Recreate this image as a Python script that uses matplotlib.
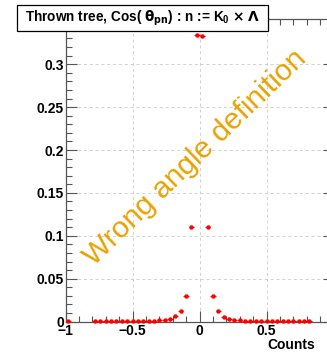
import numpy as np
import matplotlib
matplotlib.use("Agg")
import matplotlib.pyplot as plt
from matplotlib.patches import Rectangle
from matplotlib.ticker import MultipleLocator

plt.rcParams['font.family'] = ['Liberation Sans', 'DejaVu Sans']
plt.rcParams['font.weight'] = 'bold'
plt.rcParams['mathtext.fontset'] = 'custom'
plt.rcParams['mathtext.rm'] = 'DejaVu Sans'
plt.rcParams['mathtext.it'] = 'DejaVu Sans'
plt.rcParams['mathtext.bf'] = 'Liberation Sans:bold'

# Cos(theta_pn) histogram, bin width 0.04
bin_width = 0.04
centers = [-0.98,
           -0.78, -0.74, -0.70, -0.66, -0.62, -0.58, -0.54, -0.50, -0.46, -0.42,
           -0.38, -0.34, -0.30, -0.26, -0.22, -0.18, -0.14, -0.10, -0.06, -0.02,
           0.02, 0.06, 0.10, 0.14, 0.18, 0.22, 0.26, 0.30, 0.34, 0.38,
           0.42, 0.46, 0.50, 0.54, 0.58, 0.62, 0.66, 0.70, 0.74, 0.78, 0.82,
           0.98]
counts = [0.0003,
          0.0003, 0.0003, 0.0003, 0.0003, 0.0003, 0.0003, 0.0004, 0.0004, 0.0004, 0.0005,
          0.0007, 0.0009, 0.0015, 0.002, 0.003, 0.006, 0.012, 0.030, 0.110, 0.334,
          0.333, 0.110, 0.030, 0.012, 0.0055, 0.0035, 0.002, 0.0015, 0.001, 0.0008,
          0.0006, 0.0005, 0.0004, 0.0004, 0.0004, 0.0003, 0.0003, 0.0003, 0.0003, 0.0003, 0.0003,
          0.0003]

axis_col = '#555555'

fig = plt.figure(figsize=(3.27, 3.53), dpi=100)
ax = fig.add_axes([65.5 / 327, 31.4 / 353, 268 / 327, 302.6 / 353])

ax.errorbar(centers, counts, xerr=bin_width / 2, fmt='o', color='#ff0000',
            ms=3.2, mew=0, elinewidth=0.8, capsize=0, zorder=3, clip_on=False)

ax.set_xlim(-1, 1)
ax.set_ylim(0, 0.3527)

ax.xaxis.set_minor_locator(MultipleLocator(0.1))
ax.yaxis.set_minor_locator(MultipleLocator(0.01))

# the +1 label falls off the right edge of the canvas
ax.set_xticks([-1, -0.5, 0, 0.5, 1])
ax.set_xticklabels(['\u22121', '\u22120.5', '0', '0.5', ''])
ax.set_yticks([0, 0.05, 0.1, 0.15, 0.2, 0.25, 0.3])
ax.set_yticklabels(['0', '0.05', '0.1', '0.15', '0.2', '0.25', '0.3'])

ax.tick_params(which='both', direction='in', top=True, right=True,
               color=axis_col, labelsize=10, width=0.8)
ax.tick_params(which='major', length=8)
ax.tick_params(which='minor', length=4)
ax.tick_params(axis='x', pad=2)
ax.tick_params(axis='y', pad=1)
for lab in ax.get_xticklabels() + ax.get_yticklabels():
    lab.set_fontweight('bold')

for sp in ax.spines.values():
    sp.set_color(axis_col)
    sp.set_linewidth(0.9)

ax.grid(True, which='major', color='#d0d0d0', linestyle=(0, (3, 3)), linewidth=0.7)
ax.set_axisbelow(True)

ax.text(-0.034, 0.1907, 'Wrong angle definition', color='#e8a200',
        fontsize=21.5, fontweight='normal', rotation=44, rotation_mode='anchor',
        ha='center', va='center', zorder=4)

fig.text(315 / 327, 1 - 345 / 353, 'Counts', ha='right', va='center',
         fontsize=10, fontweight='bold')

# title box
fig.patches.append(Rectangle((17 / 327, 1 - 31 / 353), 251 / 327, 26 / 353,
                             transform=fig.transFigure, facecolor='white',
                             edgecolor='black', linewidth=0.9, zorder=5))
fig.text(142.5 / 327, 1 - 18.5 / 353,
         r'Thrown tree, Cos( $\theta_{\mathrm{pn}}$) : n := K$_{\mathbf{0}}$ $\times$ $\Lambda$',
         ha='center', va='center', fontsize=9.8, fontweight='bold', zorder=6)

fig.savefig('out.png', dpi=100)
